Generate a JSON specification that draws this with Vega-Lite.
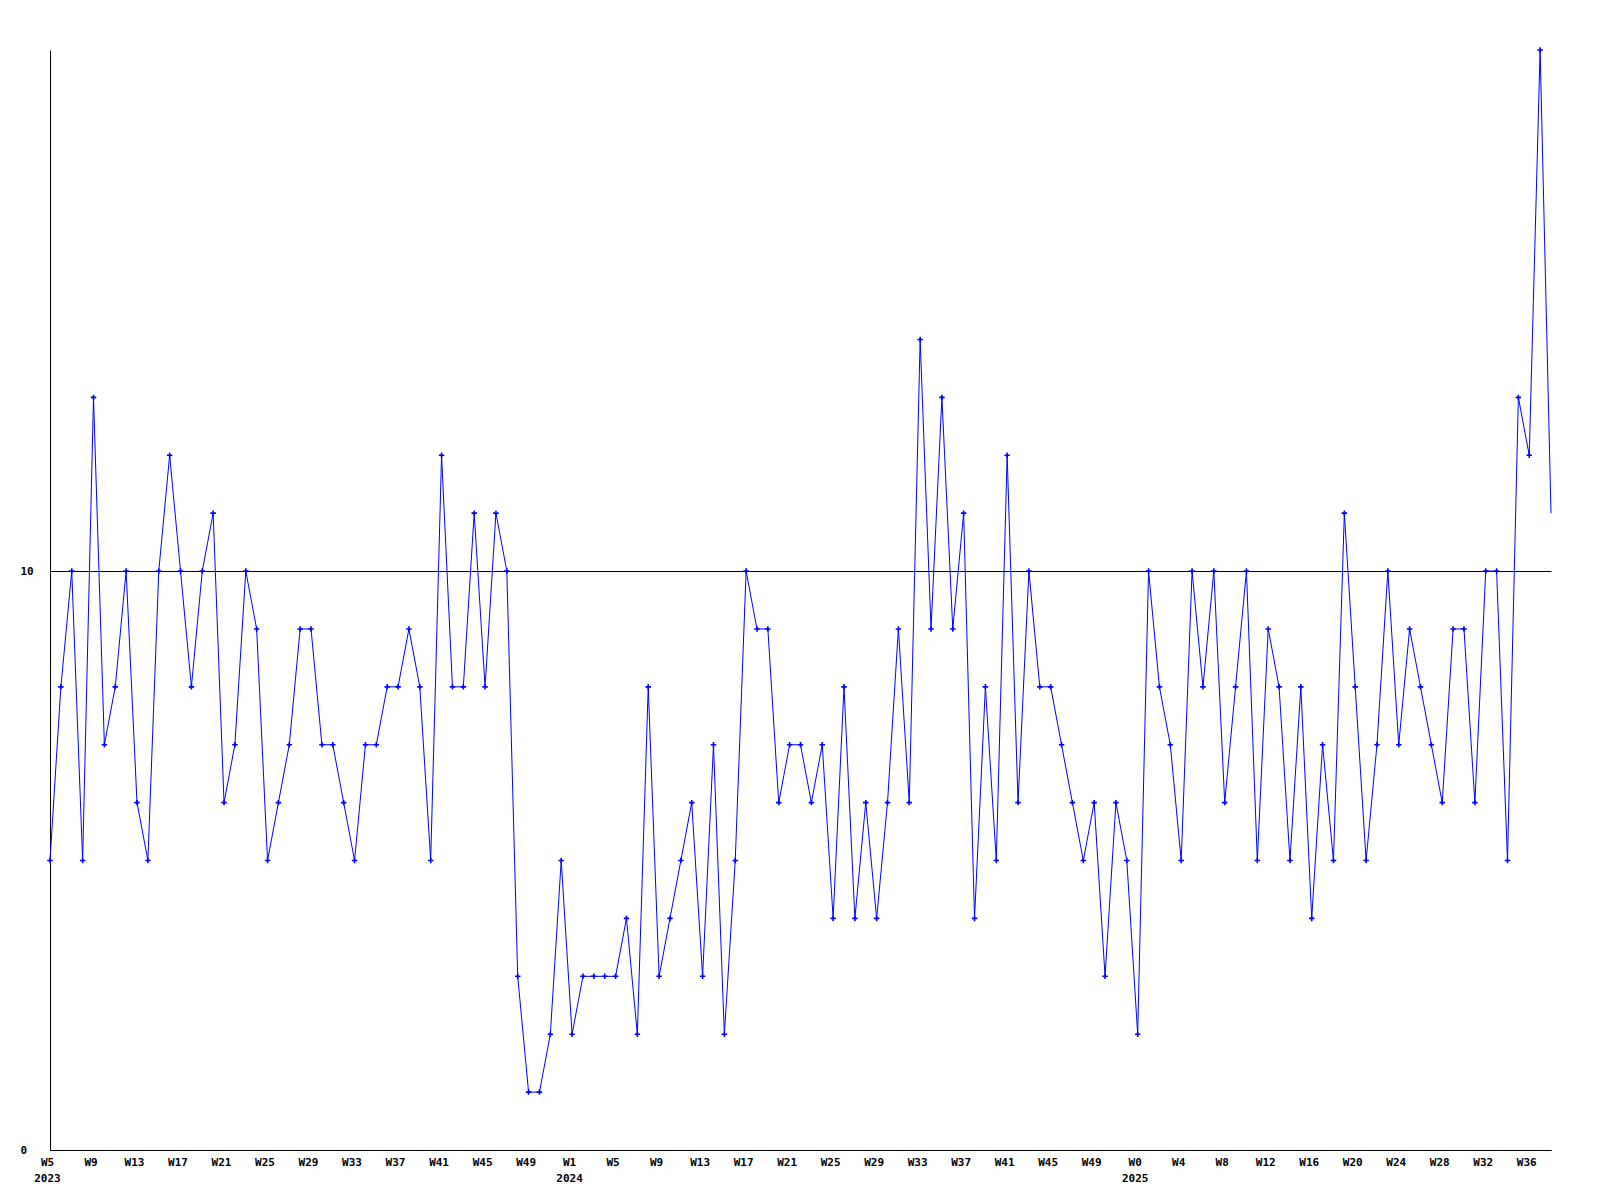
{
  "$schema": "https://vega.github.io/schema/vega-lite/v6.json",
  "width": 1501,
  "height": 1100,
  "autosize": {"type": "none"},
  "padding": {"left": 50, "top": 50, "right": 49, "bottom": 50},
  "background": "white",
  "config": {
    "view": {"stroke": null},
    "axis": {
      "labelFont": "DejaVu Sans Mono",
      "labelFontWeight": "bold",
      "labelFontSize": 11,
      "labelColor": "black",
      "domainColor": "black",
      "domainWidth": 1,
      "ticks": false,
      "title": null
    }
  },
  "data": {
    "values": [
      {"d": "2023-02-05", "v": 5}, {"d": "2023-02-12", "v": 8}, {"d": "2023-02-19", "v": 10}, {"d": "2023-02-26", "v": 5},
      {"d": "2023-03-05", "v": 13}, {"d": "2023-03-12", "v": 7}, {"d": "2023-03-19", "v": 8}, {"d": "2023-03-26", "v": 10},
      {"d": "2023-04-02", "v": 6}, {"d": "2023-04-09", "v": 5}, {"d": "2023-04-16", "v": 10}, {"d": "2023-04-23", "v": 12},
      {"d": "2023-04-30", "v": 10}, {"d": "2023-05-07", "v": 8}, {"d": "2023-05-14", "v": 10}, {"d": "2023-05-21", "v": 11},
      {"d": "2023-05-28", "v": 6}, {"d": "2023-06-04", "v": 7}, {"d": "2023-06-11", "v": 10}, {"d": "2023-06-18", "v": 9},
      {"d": "2023-06-25", "v": 5}, {"d": "2023-07-02", "v": 6}, {"d": "2023-07-09", "v": 7}, {"d": "2023-07-16", "v": 9},
      {"d": "2023-07-23", "v": 9}, {"d": "2023-07-30", "v": 7}, {"d": "2023-08-06", "v": 7}, {"d": "2023-08-13", "v": 6},
      {"d": "2023-08-20", "v": 5}, {"d": "2023-08-27", "v": 7}, {"d": "2023-09-03", "v": 7}, {"d": "2023-09-10", "v": 8},
      {"d": "2023-09-17", "v": 8}, {"d": "2023-09-24", "v": 9}, {"d": "2023-10-01", "v": 8}, {"d": "2023-10-08", "v": 5},
      {"d": "2023-10-15", "v": 12}, {"d": "2023-10-22", "v": 8}, {"d": "2023-10-29", "v": 8}, {"d": "2023-11-05", "v": 11},
      {"d": "2023-11-12", "v": 8}, {"d": "2023-11-19", "v": 11}, {"d": "2023-11-26", "v": 10}, {"d": "2023-12-03", "v": 3},
      {"d": "2023-12-10", "v": 1}, {"d": "2023-12-17", "v": 1}, {"d": "2023-12-24", "v": 2}, {"d": "2023-12-31", "v": 5},
      {"d": "2024-01-07", "v": 2}, {"d": "2024-01-14", "v": 3}, {"d": "2024-01-21", "v": 3}, {"d": "2024-01-28", "v": 3},
      {"d": "2024-02-04", "v": 3}, {"d": "2024-02-11", "v": 4}, {"d": "2024-02-18", "v": 2}, {"d": "2024-02-25", "v": 8},
      {"d": "2024-03-03", "v": 3}, {"d": "2024-03-10", "v": 4}, {"d": "2024-03-17", "v": 5}, {"d": "2024-03-24", "v": 6},
      {"d": "2024-03-31", "v": 3}, {"d": "2024-04-07", "v": 7}, {"d": "2024-04-14", "v": 2}, {"d": "2024-04-21", "v": 5},
      {"d": "2024-04-28", "v": 10}, {"d": "2024-05-05", "v": 9}, {"d": "2024-05-12", "v": 9}, {"d": "2024-05-19", "v": 6},
      {"d": "2024-05-26", "v": 7}, {"d": "2024-06-02", "v": 7}, {"d": "2024-06-09", "v": 6}, {"d": "2024-06-16", "v": 7},
      {"d": "2024-06-23", "v": 4}, {"d": "2024-06-30", "v": 8}, {"d": "2024-07-07", "v": 4}, {"d": "2024-07-14", "v": 6},
      {"d": "2024-07-21", "v": 4}, {"d": "2024-07-28", "v": 6}, {"d": "2024-08-04", "v": 9}, {"d": "2024-08-11", "v": 6},
      {"d": "2024-08-18", "v": 14}, {"d": "2024-08-25", "v": 9}, {"d": "2024-09-01", "v": 13}, {"d": "2024-09-08", "v": 9},
      {"d": "2024-09-15", "v": 11}, {"d": "2024-09-22", "v": 4}, {"d": "2024-09-29", "v": 8}, {"d": "2024-10-06", "v": 5},
      {"d": "2024-10-13", "v": 12}, {"d": "2024-10-20", "v": 6}, {"d": "2024-10-27", "v": 10}, {"d": "2024-11-03", "v": 8},
      {"d": "2024-11-10", "v": 8}, {"d": "2024-11-17", "v": 7}, {"d": "2024-11-24", "v": 6}, {"d": "2024-12-01", "v": 5},
      {"d": "2024-12-08", "v": 6}, {"d": "2024-12-15", "v": 3}, {"d": "2024-12-22", "v": 6}, {"d": "2024-12-29", "v": 5},
      {"d": "2025-01-05", "v": 2}, {"d": "2025-01-12", "v": 10}, {"d": "2025-01-19", "v": 8}, {"d": "2025-01-26", "v": 7},
      {"d": "2025-02-02", "v": 5}, {"d": "2025-02-09", "v": 10}, {"d": "2025-02-16", "v": 8}, {"d": "2025-02-23", "v": 10},
      {"d": "2025-03-02", "v": 6}, {"d": "2025-03-09", "v": 8}, {"d": "2025-03-16", "v": 10}, {"d": "2025-03-23", "v": 5},
      {"d": "2025-03-30", "v": 9}, {"d": "2025-04-06", "v": 8}, {"d": "2025-04-13", "v": 5}, {"d": "2025-04-20", "v": 8},
      {"d": "2025-04-27", "v": 4}, {"d": "2025-05-04", "v": 7}, {"d": "2025-05-11", "v": 5}, {"d": "2025-05-18", "v": 11},
      {"d": "2025-05-25", "v": 8}, {"d": "2025-06-01", "v": 5}, {"d": "2025-06-08", "v": 7}, {"d": "2025-06-15", "v": 10},
      {"d": "2025-06-22", "v": 7}, {"d": "2025-06-29", "v": 9}, {"d": "2025-07-06", "v": 8}, {"d": "2025-07-13", "v": 7},
      {"d": "2025-07-20", "v": 6}, {"d": "2025-07-27", "v": 9}, {"d": "2025-08-03", "v": 9}, {"d": "2025-08-10", "v": 6},
      {"d": "2025-08-17", "v": 10}, {"d": "2025-08-24", "v": 10}, {"d": "2025-08-31", "v": 5}, {"d": "2025-09-07", "v": 13},
      {"d": "2025-09-14", "v": 12}, {"d": "2025-09-21", "v": 19}, {"d": "2025-09-28", "v": 11}
    ]
  },
  "encoding": {
    "x": {
      "field": "d",
      "type": "temporal",
      "scale": {"type": "utc", "nice": false},
      "axis": {
        "grid": false,
        "labelAlign": "center",
        "labelBaseline": "top",
        "labelPadding": 6,
        "labelOffset": -3,
        "labelLineHeight": 16,
        "labelFlush": false,
        "labelOverlap": false,
        "labelBound": false,
        "values": [
          {"year": 2023, "month": 2, "date": 5, "utc": true},
          {"year": 2023, "month": 3, "date": 5, "utc": true},
          {"year": 2023, "month": 4, "date": 2, "utc": true},
          {"year": 2023, "month": 4, "date": 30, "utc": true},
          {"year": 2023, "month": 5, "date": 28, "utc": true},
          {"year": 2023, "month": 6, "date": 25, "utc": true},
          {"year": 2023, "month": 7, "date": 23, "utc": true},
          {"year": 2023, "month": 8, "date": 20, "utc": true},
          {"year": 2023, "month": 9, "date": 17, "utc": true},
          {"year": 2023, "month": 10, "date": 15, "utc": true},
          {"year": 2023, "month": 11, "date": 12, "utc": true},
          {"year": 2023, "month": 12, "date": 10, "utc": true},
          {"year": 2024, "month": 1, "date": 7, "utc": true},
          {"year": 2024, "month": 2, "date": 4, "utc": true},
          {"year": 2024, "month": 3, "date": 3, "utc": true},
          {"year": 2024, "month": 3, "date": 31, "utc": true},
          {"year": 2024, "month": 4, "date": 28, "utc": true},
          {"year": 2024, "month": 5, "date": 26, "utc": true},
          {"year": 2024, "month": 6, "date": 23, "utc": true},
          {"year": 2024, "month": 7, "date": 21, "utc": true},
          {"year": 2024, "month": 8, "date": 18, "utc": true},
          {"year": 2024, "month": 9, "date": 15, "utc": true},
          {"year": 2024, "month": 10, "date": 13, "utc": true},
          {"year": 2024, "month": 11, "date": 10, "utc": true},
          {"year": 2024, "month": 12, "date": 8, "utc": true},
          {"year": 2025, "month": 1, "date": 5, "utc": true},
          {"year": 2025, "month": 2, "date": 2, "utc": true},
          {"year": 2025, "month": 3, "date": 2, "utc": true},
          {"year": 2025, "month": 3, "date": 30, "utc": true},
          {"year": 2025, "month": 4, "date": 27, "utc": true},
          {"year": 2025, "month": 5, "date": 25, "utc": true},
          {"year": 2025, "month": 6, "date": 22, "utc": true},
          {"year": 2025, "month": 7, "date": 20, "utc": true},
          {"year": 2025, "month": 8, "date": 17, "utc": true},
          {"year": 2025, "month": 9, "date": 14, "utc": true}
        ],
        "labelExpr": "(datum.index == 0 || (utcmonth(datum.value) == 0 && utcdate(datum.value) <= 7)) ? ['W' + toNumber(utcFormat(datum.value, '%W')), utcFormat(datum.value, '%Y')] : 'W' + toNumber(utcFormat(datum.value, '%W'))"
      }
    },
    "y": {
      "field": "v",
      "type": "quantitative",
      "scale": {"domain": [0, 19], "nice": false},
      "axis": {
        "values": [0, 10],
        "grid": true,
        "gridColor": "black",
        "gridOpacity": 1,
        "gridWidth": 1,
        "labelAlign": "left",
        "labelBaseline": "middle",
        "labelPadding": 30
      }
    }
  },
  "layer": [
    {"mark": {"type": "line", "color": "#0000ff", "strokeWidth": 1, "interpolate": "linear"}},
    {
      "transform": [{"filter": {"field": "d", "lt": {"year": 2025, "month": 9, "date": 28, "utc": true}}}],
      "mark": {"type": "point", "shape": "M-1,0L1,0M0,-1L0,1", "filled": false, "stroke": "#0000ff", "strokeWidth": 1.6, "size": 30, "opacity": 1}
    }
  ]
}
